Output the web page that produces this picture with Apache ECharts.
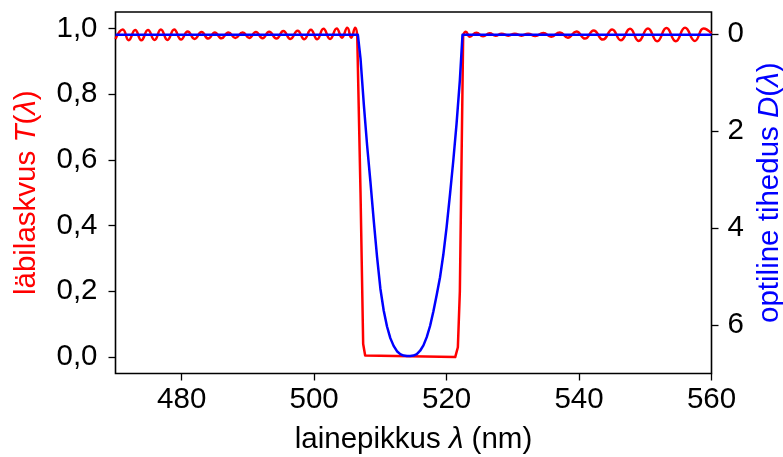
<!DOCTYPE html>
<html><head><meta charset="utf-8">
<script src="https://cdn.jsdelivr.net/npm/echarts@6/dist/echarts.min.js"></script>
<style>html,body{margin:0;padding:0;background:#fff}#c{width:783px;height:457px}</style>
</head><body><div id="c"></div>
<script>
// tick values
const xTicks = [480, 500, 520, 540, 560];
const tTicks = [0, 0.2, 0.4, 0.6, 0.8, 1.0];
const dTicks = [0, 2, 4, 6];

// transmission T(λ), left pass band (peaks/troughs of the ripple)
const transLeftLambda = [470.0, 471.1, 472.0, 472.97, 473.9, 474.9, 475.9, 476.85, 477.85, 478.86, 479.9, 480.9, 481.95, 483.0, 484.0, 485.0, 486.0, 487.05, 488.1, 489.2, 490.2, 491.2, 492.2, 493.2, 494.3, 495.35, 496.4, 497.5, 498.5, 499.5, 500.45, 501.4, 502.4, 503.4, 504.2, 505.0, 505.6, 506.2, 506.5];
const transLeftT      = [0.968, 0.997, 0.964, 0.995, 0.964, 0.995, 0.965, 0.997, 0.965, 0.997, 0.966, 0.991, 0.968, 0.989, 0.969, 0.988, 0.970, 0.988, 0.971, 0.988, 0.971, 0.989, 0.970, 0.990, 0.969, 0.992, 0.968, 0.993, 0.967, 0.996, 0.967, 0.999, 0.968, 1.000, 0.972, 1.002, 0.972, 1.002, 0.980];

// transmission in the stop band
const transNotchLambda = [506.5, 507.0, 507.4, 507.7, 508.0, 521.3, 521.7, 522.0, 522.5];
const transNotchT      = [0.980, 0.50, 0.04, 0.005, 0.0, 0.0, 0.03, 0.20, 0.980];

// transmission, right pass band
const transRightLambda = [522.5, 522.9, 523.5, 524.5, 525.5, 526.5, 527.4, 528.3, 529.3, 530.3, 531.3, 532.3, 533.4, 534.6, 535.8, 537.1, 538.3, 539.6, 540.9, 542.2, 543.6, 545.0, 546.3, 547.7, 549.0, 550.4, 551.8, 553.2, 554.6, 556.0, 557.5, 558.8, 560.0];
const transRightT      = [0.980, 0.990, 0.975, 0.987, 0.976, 0.985, 0.978, 0.984, 0.978, 0.984, 0.978, 0.984, 0.977, 0.986, 0.975, 0.988, 0.972, 0.991, 0.969, 0.994, 0.966, 0.997, 0.964, 0.999, 0.962, 1.000, 0.961, 1.001, 0.961, 1.002, 0.962, 1.000, 0.985];

// optical density D(λ)
const densLambda = [470, 506.6, 507.0, 507.5, 508.0, 508.5, 509.0, 509.5, 510.0, 510.5, 511.0, 511.5, 512.0, 512.5, 513.0, 513.5, 514.0, 514.5, 515.0, 515.5, 516.0, 516.5, 517.0, 517.5, 518.0, 518.5, 519.0, 519.5, 520.0, 520.5, 521.0, 521.5, 522.0, 522.4, 560];
const densD      = [0.01, 0.01, 0.5, 1.45, 2.3, 3.05, 3.85, 4.6, 5.25, 5.7, 6.03, 6.27, 6.43, 6.54, 6.6, 6.63, 6.64, 6.64, 6.63, 6.6, 6.53, 6.42, 6.25, 6.02, 5.72, 5.38, 5.02, 4.55, 3.98, 3.32, 2.62, 1.85, 0.95, 0.01, 0.01];

const pairs = (xs, ys) => xs.map((x, i) => [x, ys[i]]);
const FONT = 'Liberation Sans';
const FS = 29.5;

const chart = echarts.init(document.getElementById('c'), null, {renderer: 'canvas'});
chart.setOption({
  animation: false,
  backgroundColor: '#fff',
  grid: {left: 115.5, right: 71.5, top: 12, bottom: 83.5, show: true, borderColor: '#000', borderWidth: 1.6,
    backgroundColor: 'transparent', containLabel: false, outerBoundsMode: 'none'},
  xAxis: {
    type: 'value', min: 470, max: 560,
    axisLine: {show: false, onZero: false},
    splitLine: {show: false},
    axisTick: {show: true, length: 7, lineStyle: {color: '#000', width: 1.3}, customValues: xTicks},
    axisLabel: {color: '#000', fontFamily: FONT, fontSize: FS, margin: 11.5, customValues: xTicks},
    name: 'lainepikkus {i|λ} (nm)', nameLocation: 'middle', nameGap: 51,
    nameTextStyle: {color: '#000', fontFamily: FONT, fontSize: FS,
      rich: {i: {fontStyle: 'italic', fontFamily: FONT, fontSize: FS, color: '#000'}}}
  },
  yAxis: [{
    type: 'value', min: -0.05, max: 1.05, position: 'left',
    axisLine: {show: false, onZero: false},
    splitLine: {show: false},
    axisTick: {show: true, length: 7, lineStyle: {color: '#000', width: 1.3}, customValues: tTicks},
    axisLabel: {color: '#000', fontFamily: FONT, fontSize: FS, margin: 18, customValues: tTicks,
      formatter: v => v.toFixed(1).replace('.', ',')},
    name: 'läbilaskvus {i|T}({i|λ})', nameLocation: 'middle', nameGap: 73.5,
    nameTextStyle: {color: '#ff0000', fontFamily: FONT, fontSize: FS,
      rich: {i: {fontStyle: 'italic', fontFamily: FONT, fontSize: FS, color: '#ff0000'}}}
  }, {
    type: 'value', min: -0.46, max: 7.0, inverse: true, position: 'right',
    axisLine: {show: false, onZero: false},
    splitLine: {show: false},
    axisTick: {show: true, length: 7, lineStyle: {color: '#000', width: 1.3}, customValues: dTicks},
    axisLabel: {color: '#000', fontFamily: FONT, fontSize: FS, margin: 16, customValues: dTicks},
    name: 'optiline tihedus {i|D}({i|λ})', nameLocation: 'middle', nameGap: 43,
    nameTextStyle: {color: '#0000ff', fontFamily: FONT, fontSize: FS,
      rich: {i: {fontStyle: 'italic', fontFamily: FONT, fontSize: FS, color: '#0000ff'}}}
  }],
  series: [
    {type: 'line', yAxisIndex: 0, data: pairs(transLeftLambda, transLeftT), smooth: 0.5, showSymbol: false, symbol: 'none',
      lineStyle: {color: '#ff0000', width: 2.5}, z: 2},
    {type: 'line', yAxisIndex: 0, data: pairs(transNotchLambda, transNotchT), smooth: false, showSymbol: false, symbol: 'none',
      lineStyle: {color: '#ff0000', width: 2.5, join: 'round'}, z: 2},
    {type: 'line', yAxisIndex: 0, data: pairs(transRightLambda, transRightT), smooth: 0.5, showSymbol: false, symbol: 'none',
      lineStyle: {color: '#ff0000', width: 2.5}, z: 2},
    {type: 'line', yAxisIndex: 1, data: pairs(densLambda, densD), smooth: false, showSymbol: false, symbol: 'none',
      lineStyle: {color: '#0000ff', width: 2.5, join: 'round'}, z: 3}
  ]
});
</script>
</body></html>
